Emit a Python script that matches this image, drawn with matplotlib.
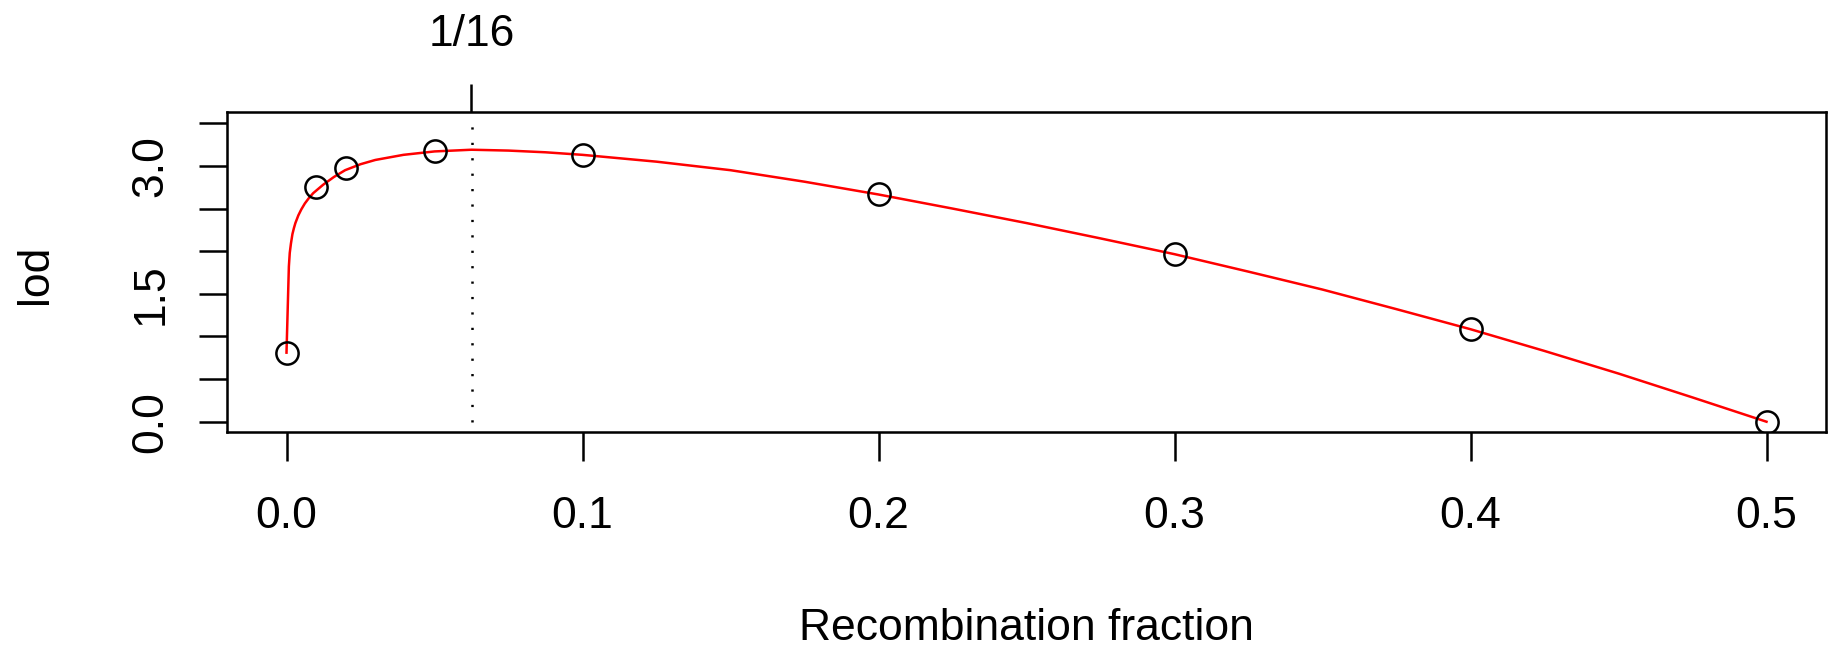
import numpy as np
import matplotlib
matplotlib.use("Agg")
import matplotlib.pyplot as plt

# observed LOD at the grid of recombination fractions
rf_points = [0.0, 0.01, 0.02, 0.05, 0.1, 0.2, 0.3, 0.4, 0.5]
lod_points = [0.81, 2.75, 2.98, 3.18, 3.13, 2.67, 1.97, 1.09, 0.0]

# red LOD curve
rf_curve = [0.0, 0.0008, 0.0011, 0.0015, 0.002, 0.0025, 0.003, 0.004, 0.005,
            0.0062, 0.0075, 0.009, 0.0124, 0.016, 0.0198, 0.025, 0.03, 0.0395,
            0.05, 0.0625, 0.075, 0.0875, 0.1, 0.125, 0.15, 0.175, 0.2, 0.225,
            0.25, 0.275, 0.3, 0.325, 0.35, 0.375, 0.4, 0.425, 0.45, 0.475, 0.5]
lod_curve = [0.81, 1.82, 1.98, 2.09, 2.20, 2.27, 2.33, 2.42, 2.49,
             2.56, 2.62, 2.68, 2.78, 2.87, 2.95, 3.02, 3.07, 3.13,
             3.17, 3.19, 3.18, 3.16, 3.13, 3.05, 2.95, 2.815, 2.665, 2.50,
             2.33, 2.15, 1.965, 1.76, 1.55, 1.32, 1.085, 0.83, 0.565, 0.285, 0.0]

rf_max = 1 / 16
rf_max_label = "1/16"
lod_top = 3.48

x_ticks = [0.0, 0.1, 0.2, 0.3, 0.4, 0.5]
x_labels = ["0.0", "0.1", "0.2", "0.3", "0.4", "0.5"]
y_ticks = [0.0, 0.5, 1.0, 1.5, 2.0, 2.5, 3.0, 3.5]
y_labels = ["0.0", "", "", "1.5", "", "", "3.0", ""]

plt.rcParams['font.family'] = ['Liberation Sans', 'DejaVu Sans']
plt.rcParams['lines.scale_dashes'] = False
FS = 32
LW = 1.8

fig = plt.figure(figsize=(18.32, 6.49), dpi=100)
ax = fig.add_axes([227.3 / 1832, 1 - 432.3 / 649, (1825.7 - 227.3) / 1832, (432.3 - 111.7) / 649])

ax.plot(rf_curve, lod_curve, color="red", linewidth=LW, zorder=3)
ax.plot(rf_points, lod_points, linestyle="none", marker="o", markersize=16,
        markerfacecolor="none", markeredgecolor="black", markeredgewidth=LW, zorder=4)
ax.vlines(rf_max, 0, lod_top, colors="black", linewidth=LW, linestyles=(0, (1.6, 9.5)))

ax.set_xlim(-0.02, 0.52)
ax.set_ylim(-0.124, 3.636)

ax.set_xticks(x_ticks)
ax.set_xticklabels(x_labels, fontsize=FS)
ax.set_yticks(y_ticks)
ax.set_yticklabels(y_labels, fontsize=FS, rotation=90, va="center")
ax.tick_params(axis="x", length=21, width=LW, pad=25)
ax.tick_params(axis="y", length=20, width=LW, pad=20)

for s in ax.spines.values():
    s.set_linewidth(LW)

top = ax.twiny()
top.set_xlim(ax.get_xlim())
top.set_xticks([rf_max])
top.set_xticklabels([rf_max_label], fontsize=FS)
top.tick_params(axis="x", length=20.5, width=LW, pad=20.5)

fig.text(1026.5 / 1832, 1 - 628 / 649, "Recombination fraction", fontsize=FS,
         ha="center", va="center")
fig.text(36 / 1832, 1 - 274 / 649, "lod", fontsize=FS, rotation=90,
         ha="center", va="center")

fig.savefig("out.png", dpi=100)
